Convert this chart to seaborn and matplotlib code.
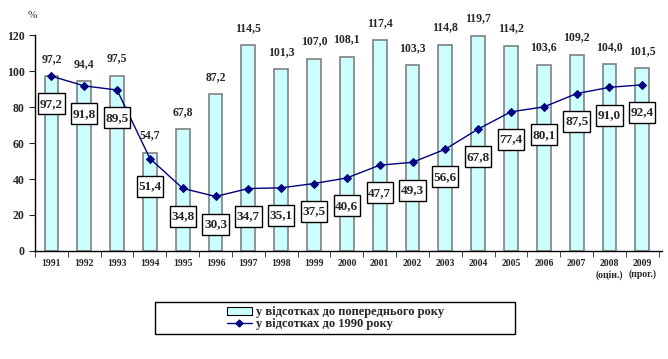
import numpy as np
import pandas as pd
import matplotlib
matplotlib.use("Agg")
import matplotlib.pyplot as plt
import seaborn as sns
from matplotlib.lines import Line2D
from matplotlib.patches import Patch, Rectangle
from matplotlib.path import Path

# дані
years = ["1991", "1992", "1993", "1994", "1995", "1996", "1997", "1998", "1999", "2000",
         "2001", "2002", "2003", "2004", "2005", "2006", "2007", "2008\n(оцін.)", "2009\n(прог.)"]
prev_year = [97.2, 94.4, 97.5, 54.7, 67.8, 87.2, 114.5, 101.3, 107.0, 108.1,
             117.4, 103.3, 114.8, 119.7, 114.2, 103.6, 109.2, 104.0, 101.5]
to_1990 = [97.2, 91.8, 89.5, 51.4, 34.8, 30.3, 34.7, 35.1, 37.5, 40.6,
           47.7, 49.3, 56.6, 67.8, 77.4, 80.1, 87.5, 91.0, 92.4]
label_bar = "у відсотках до попереднього року"
label_line = "у відсотках до 1990 року"

sns.set_style("white")
plt.rcParams['font.family'] = ['Liberation Serif', 'DejaVu Serif']
plt.rcParams['font.weight'] = 'bold'

bar_color = "#CCFFFF"
line_color = "#000080"


# рамка для підписів: вузька по горизонталі, висока по вертикалі
def tall_box(x0, y0, width, height, mutation_size):
    px, py = 0.12 * mutation_size, 0.34 * mutation_size
    x0, y0, x1, y1 = x0 - px, y0 - py, x0 + width + px, y0 + height + py
    return Path([(x0, y0), (x1, y0), (x1, y1), (x0, y1), (x0, y0)], closed=True)


fig = plt.figure(figsize=(6.68, 3.59), dpi=100)
ax = fig.add_axes([0.0524, 0.301, 0.9386, 0.601])

df = pd.DataFrame({"year": years, "prev": prev_year, "base": to_1990})
sns.barplot(data=df, x="year", y="prev", color=bar_color, saturation=1,
            width=0.42, edgecolor="#808080", linewidth=1.2, ax=ax)
xs = np.arange(len(years))
sns.lineplot(x=xs, y=df["base"], color=line_color, marker="D", markersize=4.5,
             markeredgecolor=line_color, linewidth=1, ax=ax)

fmt = lambda v: f"{v:.1f}".replace(".", ",")

for i, v in enumerate(prev_year):
    ax.annotate(fmt(v), (i, v), xytext=(0, 8), textcoords="offset points",
                ha="center", va="bottom", fontsize=8.5, fontweight="bold")
for i, v in enumerate(to_1990):
    ax.annotate(fmt(v), (i, v), xytext=(0, -20), textcoords="offset points",
                ha="center", va="center", fontsize=9.5, fontweight="bold",
                bbox=dict(boxstyle=tall_box, fc="white", ec="black", lw=1),
                zorder=5)

ax.set_xlim(-0.5, 18.6)
ax.set_ylim(0, 120)
ax.set_yticks(range(0, 121, 20))
ax.set_xlabel("")
ax.set_ylabel("")
ax.tick_params(axis="y", labelsize=8.5, length=4, direction="out", left=True)
ax.tick_params(axis="x", which="major", labelsize=7, length=0, pad=6)
ax.set_xticks(np.arange(-0.5, 19, 1), minor=True)
ax.tick_params(axis="x", which="minor", length=4, direction="out", bottom=True)
for lbl in ax.get_xticklabels() + ax.get_yticklabels():
    lbl.set_fontweight("bold")
sns.despine(ax=ax)
for s in ["left", "bottom"]:
    ax.spines[s].set_color("black")
    ax.spines[s].set_linewidth(1)

fig.text(0.049, 0.958, "%", fontsize=8, ha="center", va="center", fontweight="normal")

handles = [Patch(fc=bar_color, ec="black", lw=0.8, label=label_bar),
           Line2D([0], [0], color=line_color, marker="D", markersize=3.5, lw=1, label=label_line)]
fig.legend(handles=handles, loc="center", bbox_to_anchor=(0.502, 0.114), frameon=False,
           prop={"size": 9, "weight": "bold"}, handlelength=2.0, handleheight=0.6,
           handletextpad=0.3, labelspacing=0.0, borderpad=0)
fig.patches.append(Rectangle((155 / 668, 25 / 359), 360 / 668, 32 / 359,
                             transform=fig.transFigure, fill=False, ec="black", lw=1))

fig.savefig("out.png", dpi=100)
